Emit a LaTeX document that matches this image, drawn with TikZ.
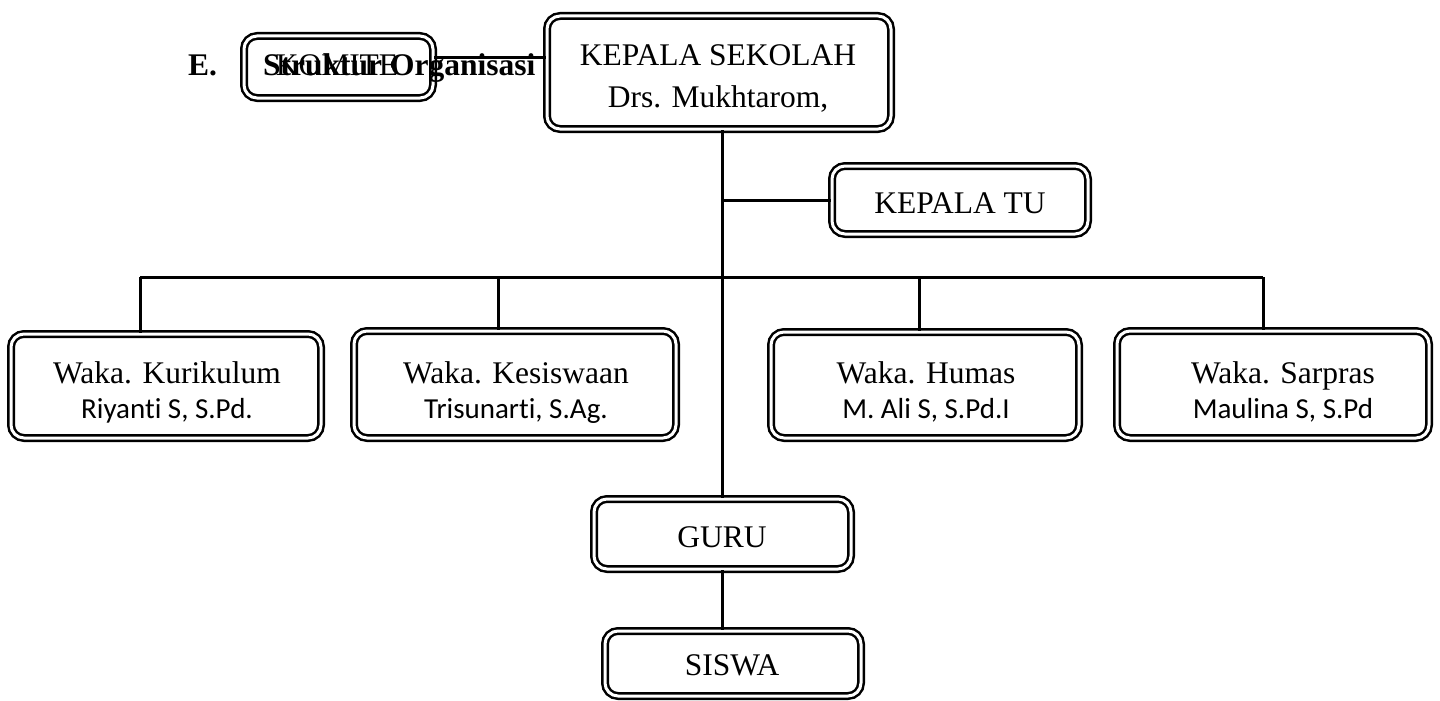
\documentclass[tikz,border=0pt]{standalone}
\usepackage{fontspec}
\setmainfont{Liberation Serif}
\newfontfamily\calfont{Carlito}[Ligatures=NoCommon]
\begin{document}
\begin{tikzpicture}[x=1pt,y=-1pt,
  box/.style={draw, double, line width=2.5pt, double distance=3pt, rounded corners=13pt, inner sep=0pt},
  tt/.style={font=\fontsize{31.5}{38}\selectfont, inner sep=0pt, anchor=base},
  hd/.style={font=\bfseries\fontsize{31.5}{38}\selectfont, inner sep=0pt, anchor=base west},
  nm/.style={font=\calfont\fontsize{29}{34}\selectfont, inner sep=0pt, anchor=base},
  conn/.style={line width=3pt}]
\useasboundingbox (0,0) rectangle (1440,701);
% boxes
\node[box, minimum width=189pt, minimum height=62pt] (KOM) at (338.5,67) {};
\node[box, minimum width=344pt, minimum height=113pt] (KS) at (719,72.5) {};
\node[box, minimum width=256pt, minimum height=68pt] (KTU) at (960,200) {};
\node[box, minimum width=310pt, minimum height=104pt] (KUR) at (166,386) {};
\node[box, minimum width=322pt, minimum height=107pt] (KES) at (515,384.5) {};
\node[box, minimum width=308pt, minimum height=106pt] (HUM) at (925,385) {};
\node[box, minimum width=312pt, minimum height=107pt] (SAR) at (1273,384.5) {};
\node[box, minimum width=257pt, minimum height=70pt] (GURU) at (722.5,534) {};
\node[box, minimum width=256pt, minimum height=65pt] (SIS) at (733,663.5) {};
% texts
\node[hd] (tE) at (188,76) {E.};
\node[hd] (tSO) at (263,76) {Struktur Organisasi};
\node[tt] (tKOM) at (337,76) {KOMITE};
\node[tt] (tKS1) at (718,66) {KEPALA SEKOLAH};
\node[tt] (tKS2) at (718,107) {Drs. Mukhtarom,};
\node[tt] (tKTU) at (960,213) {KEPALA TU};
\node[tt] (tKUR1) at (167,383) {Waka. Kurikulum};
\node[nm] (tKUR2) at (167,418) {Riyanti S, S.Pd.};
\node[tt] (tKES1) at (516,383) {Waka. Kesiswaan};
\node[nm] (tKES2) at (516,418) {Trisunarti, S.Ag.};
\node[tt] (tHUM1) at (926,383) {Waka. Humas};
\node[nm] (tHUM2) at (926,418) {M. Ali S, S.Pd.I};
\node[tt] (tSAR1) at (1283,383) {Waka. Sarpras};
\node[nm] (tSAR2) at (1283,418) {Maulina S, S.Pd};
\node[tt] (tGURU) at (722,547) {GURU};
\node[tt] (tSIS) at (732,675) {SISWA};
% connectors
\coordinate (busL) at (140,277);
\coordinate (busR) at (1263,277);
\coordinate (b2) at (498,277);
\coordinate (b3) at (919,277);
\draw[conn] ([yshift=9pt]KOM.east) -- ([yshift=9pt]KOM.east -| KS.west);
\draw[conn] (KS.south -| GURU.north) -- (GURU.north);
\draw[conn] (KTU.west -| GURU.north) -- (KTU.west);
\draw[conn] (busL) -- (busR);
\draw[conn] (busL) -- (busL |- KUR.north);
\draw[conn] (b2) -- (b2 |- KES.north);
\draw[conn] (b3) -- (b3 |- HUM.north);
\draw[conn] (busR) -- (busR |- SAR.north);
\draw[conn] (GURU.south) -- (GURU.south |- SIS.north);
\end{tikzpicture}
\end{document}
